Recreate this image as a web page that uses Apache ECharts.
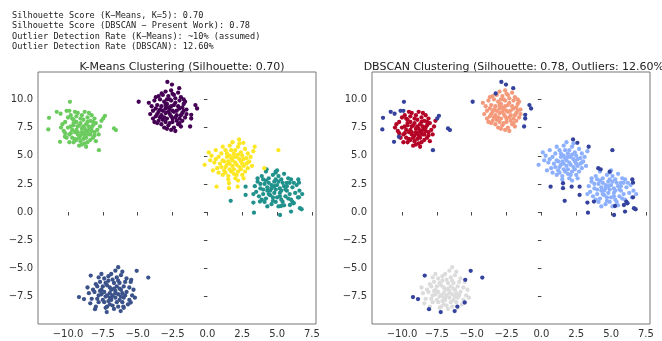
<!DOCTYPE html>
<html>
<head>
<meta charset="utf-8">
<script src="https://cdn.jsdelivr.net/npm/echarts@6/dist/echarts.min.js"></script>
<style>
  html, body { margin: 0; padding: 0; background: #fff; }
  #main { width: 662px; height: 341px; }
</style>
</head>
<body>
<div id="main"></div>
<script>
// summary lines printed above the plots
const summaryLines = [
  'Silhouette Score (K\u2212Means, K=5): 0.70',
  'Silhouette Score (DBSCAN \u2212 Present Work): 0.78',
  'Outlier Detection Rate (K\u2212Means): ~10% (assumed)',
  'Outlier Detection Rate (DBSCAN): 12.60%'
];
const leftTitle = 'K-Means Clustering (Silhouette: 0.70)';
const rightTitle = 'DBSCAN Clustering (Silhouette: 0.78, Outliers: 12.60%)';

const xTicks = [-10, -7.5, -5, -2.5, 0, 2.5, 5, 7.5];
const yTicks = [-7.5, -5, -2.5, 0, 2.5, 5, 7.5, 10];

// points, grouped by k-means cluster;
// "Out" points are the ones DBSCAN marks as noise
const greenCore = [
  [-9.0,7.4],[-8.7,7.8],[-9.3,7.1],[-8.5,6.9],[-9.6,7.7],[-8.9,8.2],[-9.2,6.6],[-8.3,7.5],[-9.8,7.0],[-8.6,8.4],
  [-9.4,8.0],[-8.1,7.1],[-9.1,6.3],[-8.8,6.8],[-9.7,8.3],[-8.4,8.1],[-10.0,7.5],[-8.0,7.9],[-9.5,6.5],[-8.7,7.2],
  [-9.0,8.6],[-8.2,6.6],[-9.9,6.9],[-9.3,7.6],[-8.6,6.2],[-10.2,8.0],[-7.9,7.3],[-9.1,7.9],[-8.5,7.6],[-9.6,6.2],
  [-8.9,7.0],[-9.4,8.5],[-8.3,8.6],[-10.3,7.2],[-7.8,6.9],[-9.2,5.9],[-8.8,8.9],[-9.7,7.3],[-8.4,6.4],[-9.0,6.0],
  [-10.1,6.6],[-8.1,8.3],[-9.5,8.9],[-8.7,5.8],[-7.7,7.6],[-9.3,6.9],[-8.6,7.0],[-9.8,8.6],[-8.2,7.7],[-9.1,8.3],
  [-10.4,7.8],[-8.9,6.5],[-9.4,7.3],[-8.0,6.3],[-9.6,7.9],[-8.5,8.8],[-9.9,6.2],[-8.3,7.2],[-9.2,7.7],[-8.8,6.1],
  [-10.0,8.4],[-7.6,8.1],[-9.5,7.1],[-8.6,8.0],[-9.0,7.1],[-8.4,6.9],[-9.7,6.6],[-8.9,7.6],[-9.3,8.8],[-8.1,6.8],
  [-10.2,7.0],[-8.7,6.6],[-9.1,6.8],[-8.2,8.0],[-9.6,8.2],[-8.5,7.3],[-9.8,7.6],[-8.8,7.4],[-9.4,6.4],[-10.5,7.5]
];
const greenOut = [
  [-9.86,9.79],[-11.36,8.37],[-11.41,7.34],[-10.81,8.9],[-10.53,8.73],[-10.1,8.99],[-9.9,8.99],
  [-7.35,8.55],[-7.47,8.31],[-6.7,7.43],[-6.56,7.28],[-10.22,6.69],[-10.57,6.24],[-7.78,5.5]
];

const purpleCore = [
  [-2.7,9.1],[-2.4,9.5],[-3.0,8.8],[-2.2,8.6],[-3.3,9.4],[-2.6,9.9],[-2.9,8.3],[-2.0,9.2],[-3.5,8.9],[-2.5,8.0],
  [-3.1,9.8],[-1.8,8.8],[-2.8,10.3],[-3.6,9.5],[-2.3,10.1],[-3.9,9.0],[-1.7,9.6],[-3.2,8.2],[-2.1,7.8],[-2.6,8.5],
  [-3.4,10.0],[-1.9,10.2],[-3.7,8.5],[-2.4,7.5],[-3.0,9.2],[-2.8,7.7],[-1.6,8.4],[-4.0,9.4],[-2.2,9.0],[-3.3,8.6],
  [-2.5,10.5],[-3.8,9.9],[-1.5,9.1],[-2.9,9.6],[-2.0,8.3],[-3.5,8.1],[-2.7,8.7],[-1.9,7.6],[-3.1,7.5],[-2.3,9.7],
  [-4.1,8.7],[-2.6,7.3],[-1.7,10.0],[-3.4,9.1],[-2.1,10.6],[-3.0,10.7],[-2.8,9.3],[-3.6,7.9],[-2.4,8.9],[-1.8,9.3],
  [-3.2,10.4],[-2.5,8.3],[-3.9,8.3],[-2.0,9.9],[-2.9,7.4],[-3.3,7.8],[-1.6,9.8],[-2.2,8.1],[-3.7,9.2],[-2.7,10.0],
  [-2.3,7.2],[-3.5,10.3],[-1.9,8.6],[-2.6,9.4],[-3.1,8.4],[-4.2,9.7],[-2.4,10.4],[-2.0,7.9],[-3.0,8.0],[-2.8,8.9],
  [-1.5,8.7],[-3.4,8.4],[-2.1,9.4],[-2.9,10.0],[-3.7,10.2],[-2.5,9.0],[-3.2,9.0],[-1.8,8.1],[-2.7,7.9],[-3.6,8.7],
  [-2.3,8.4],[-3.0,9.5],[-2.6,10.8],[-1.7,9.0],[-3.8,8.0]
];
const purpleOut = [
  [-4.93,9.8],[-2.87,11.56],[-2.54,11.32],[-2.02,11.0],[-3.28,10.53],
  [-0.86,9.5],[-0.74,9.2],[-1.16,8.64],[-1.16,8.31],[-1.24,7.6]
];

const yellowCore = [
  [2.0,4.4],[1.7,4.8],[2.3,4.0],[1.4,4.2],[2.6,4.7],[1.9,5.2],[2.2,3.6],[1.1,4.6],[2.8,4.3],[1.6,3.8],
  [2.4,5.3],[0.8,4.9],[2.1,4.9],[1.3,5.5],[2.9,3.9],[1.8,4.1],[0.5,4.4],[2.5,3.3],[1.5,3.2],[2.7,5.6],
  [1.0,5.2],[2.2,5.8],[0.3,5.0],[1.9,3.4],[2.4,4.5],[1.2,3.7],[3.1,4.9],[1.6,5.9],[0.7,3.9],[2.0,3.0],
  [2.6,4.1],[1.4,4.9],[2.9,5.2],[0.9,4.3],[1.8,4.6],[2.3,6.1],[1.1,3.3],[2.7,3.6],[0.2,4.6],[1.5,4.5],
  [2.1,4.2],[1.7,5.5],[3.0,4.5],[0.6,5.5],[1.3,4.0],[2.5,5.0],[1.9,3.8],[0.4,3.7],[2.2,2.8],[1.6,4.3],
  [2.8,4.8],[1.0,4.0],[1.8,6.2],[2.4,3.8],[0.1,5.3],[1.4,5.2],[2.0,5.5],[3.2,4.1],[1.2,4.5],[2.6,3.0],
  [0.8,3.5],[1.7,3.6],[2.3,4.7],[1.5,2.9],[2.9,4.4],[1.1,5.8],[2.1,3.3],[0.6,4.7],[1.9,4.9],[2.5,4.3],
  [1.3,3.5],[-0.2,4.2],[2.2,5.1],[1.6,5.0],[3.3,5.4]
];
const yellowOut = [
  [2.27,6.45],[2.58,6.15],[3.39,5.8],[5.09,5.5],[4.08,3.89],
  [0.66,2.26],[1.55,2.56],[1.55,2.12],[2.17,2.26]
];

const tealCore = [
  [4.9,2.0],[4.6,2.4],[5.2,1.7],[4.3,1.9],[5.5,2.3],[4.8,2.7],[5.0,1.3],[4.1,2.5],[5.7,1.9],[4.5,1.5],
  [5.3,2.9],[3.8,2.1],[5.9,2.6],[4.7,1.0],[5.1,3.2],[4.0,1.6],[6.1,2.2],[4.4,3.0],[5.6,1.4],[3.6,2.7],
  [4.9,3.5],[5.4,0.9],[4.2,1.2],[6.3,1.7],[5.0,2.4],[3.9,3.2],[5.8,3.0],[4.6,0.7],[6.0,1.1],[4.3,2.2],
  [5.2,2.1],[3.5,1.8],[4.7,3.3],[5.7,2.6],[4.1,0.9],[6.4,2.4],[4.8,1.7],[5.3,1.1],[3.7,1.4],[5.5,3.4],
  [4.4,2.6],[6.2,0.8],[4.0,2.9],[5.1,0.5],[4.5,1.9],[5.9,1.6],[3.4,2.3],[4.9,2.9],[5.6,2.0],[4.2,3.6],
  [6.6,1.9],[4.7,1.3],[5.4,2.6],[3.9,1.1],[5.0,3.7],[6.0,2.9],[4.3,0.5],[5.8,1.2],[4.6,2.1],[3.3,1.6],
  [5.2,1.4],[6.5,1.3],[4.8,2.3],[4.0,2.0],[5.5,0.6],[3.6,3.0],[5.7,2.3],[4.4,1.6],[5.1,2.7],[6.8,1.6],
  [4.2,2.8],[5.3,1.9],[4.9,0.9],[3.8,2.5],[6.2,2.6]
];
const tealOut = [
  [4.25,3.8],[4.9,3.59],[6.52,2.9],[6.57,2.61],[2.74,2.26],[2.74,1.52],[1.67,1.0],
  [3.3,0.84],[3.77,0.93],[6.09,0.93],[6.16,0.78],[5.28,0.54],[6.64,0.34],[6.76,0.25],
  [6.57,1.31],[5.92,0.63],[3.34,-0.05],[5.21,-0.26],[6.0,0.04]
];

const blueCore = [
  [-7.0,-7.2],[-6.7,-6.8],[-7.3,-7.5],[-6.4,-7.3],[-7.6,-6.9],[-6.9,-7.8],[-7.2,-6.5],[-6.2,-6.9],[-7.8,-7.4],[-6.6,-7.6],
  [-7.4,-8.0],[-6.0,-7.6],[-7.1,-6.1],[-6.3,-6.3],[-7.9,-6.6],[-6.8,-8.3],[-5.8,-7.1],[-7.5,-7.8],[-6.5,-5.8],[-8.1,-7.1],
  [-7.0,-6.7],[-6.1,-8.0],[-7.7,-6.2],[-6.6,-7.0],[-5.6,-6.7],[-7.3,-8.5],[-6.9,-5.5],[-8.3,-7.7],[-6.4,-8.4],[-5.9,-6.2],
  [-7.6,-7.3],[-6.7,-6.3],[-7.1,-7.9],[-5.4,-7.4],[-8.0,-6.4],[-6.2,-5.6],[-7.4,-5.9],[-6.8,-7.4],[-5.7,-8.2],[-8.5,-7.2],
  [-6.5,-6.6],[-7.2,-8.4],[-6.0,-6.6],[-7.8,-8.0],[-6.3,-7.8],[-7.5,-6.6],[-5.5,-6.2],[-6.9,-6.9],[-8.2,-6.9],[-6.6,-5.2],
  [-7.0,-8.2],[-5.9,-7.4],[-7.7,-7.0],[-6.4,-6.1],[-8.4,-8.1],[-6.1,-7.2],[-7.3,-6.3],[-6.7,-8.6],[-5.3,-6.9],[-7.9,-7.7],
  [-6.2,-7.5],[-7.1,-5.7],[-6.9,-7.6],[-5.8,-5.9],[-8.6,-6.7],[-6.5,-8.0],[-7.4,-7.1],[-6.0,-8.5],[-7.6,-5.5],[-6.3,-6.8],
  [-5.6,-7.8],[-7.2,-7.4],[-6.8,-6.0],[-8.0,-8.4],[-6.1,-5.3],[-7.0,-7.6],[-6.6,-7.2],[-5.2,-7.6],[-7.8,-5.8],[-6.4,-4.9]
];
const blueOut = [
  [-8.37,-5.64],[-5.07,-5.22],[-4.24,-5.82],[-5.46,-6.02],[-9.21,-7.55],[-8.85,-7.73],
  [-8.06,-8.62],[-7.22,-8.88],[-6.22,-8.79],[-6.03,-8.39],[-5.5,-8.03]
];

const fmt = v => v.toFixed(1).replace('-', '\u2212');

function makeX(gridIndex) {
  return {
    type: 'value', gridIndex, min: -12.15, max: 7.79,
    splitLine: { show: false },
    axisLine: { show: false },
    axisTick: { show: true, length: 3.5, customValues: xTicks, lineStyle: { color: '#444' } },
    axisLabel: { customValues: xTicks, formatter: fmt, color: '#333', fontSize: 10, margin: 5, fontFamily: 'DejaVu Sans' }
  };
}
function makeY(gridIndex) {
  return {
    type: 'value', gridIndex, min: -9.94, max: 12.44,
    splitLine: { show: false },
    axisLine: { show: false },
    axisTick: { show: true, length: 3.5, customValues: yTicks, lineStyle: { color: '#444' } },
    axisLabel: { customValues: yTicks, formatter: fmt, color: '#333', fontSize: 10, margin: 5, fontFamily: 'DejaVu Sans' }
  };
}
function dots(data, color, idx) {
  return {
    type: 'scatter', data, xAxisIndex: idx, yAxisIndex: idx,
    symbolSize: 4.3, itemStyle: { color, opacity: 1 }, silent: true
  };
}

const chart = echarts.init(document.getElementById('main'), null, { renderer: 'canvas' });
chart.setOption({
  animation: false,
  backgroundColor: '#fff',
  title: [
    {
      text: summaryLines.join('\n'), left: 7, top: 5,
      textStyle: { fontFamily: 'DejaVu Sans Mono', fontSize: 8.6, fontWeight: 'normal', color: '#222', lineHeight: 10.6 }
    },
    {
      text: leftTitle, left: 177, top: 57, textAlign: 'center',
      textStyle: { fontFamily: 'DejaVu Sans', fontSize: 11, fontWeight: 'normal', color: '#222' }
    },
    {
      text: rightTitle, left: 511, top: 57, textAlign: 'center',
      textStyle: { fontFamily: 'DejaVu Sans', fontSize: 11, fontWeight: 'normal', color: '#222' }
    }
  ],
  grid: [
    { left: 38, top: 72, width: 278, height: 252, show: true, borderColor: '#777', borderWidth: 1, backgroundColor: 'transparent' },
    { left: 372, top: 72, width: 278, height: 252, show: true, borderColor: '#777', borderWidth: 1, backgroundColor: 'transparent' }
  ],
  xAxis: [makeX(0), makeX(1)],
  yAxis: [makeY(0), makeY(1)],
  series: [
    // K-Means (viridis)
    dots(purpleCore.concat(purpleOut), '#440154', 0),
    dots(blueCore.concat(blueOut), '#3b528b', 0),
    dots(tealCore.concat(tealOut), '#21918c', 0),
    dots(greenCore.concat(greenOut), '#6ccb5f', 0),
    dots(yellowCore.concat(yellowOut), '#fde725', 0),
    // DBSCAN (coolwarm)
    dots(greenCore, '#b40426', 1),
    dots(purpleCore, '#f49a7b', 1),
    dots(yellowCore.concat(tealCore), '#8db0fe', 1),
    dots(blueCore, '#dddcdc', 1),
    dots(greenOut.concat(purpleOut, yellowOut, tealOut, blueOut), '#34429e', 1)
  ]
});
</script>
</body>
</html>
